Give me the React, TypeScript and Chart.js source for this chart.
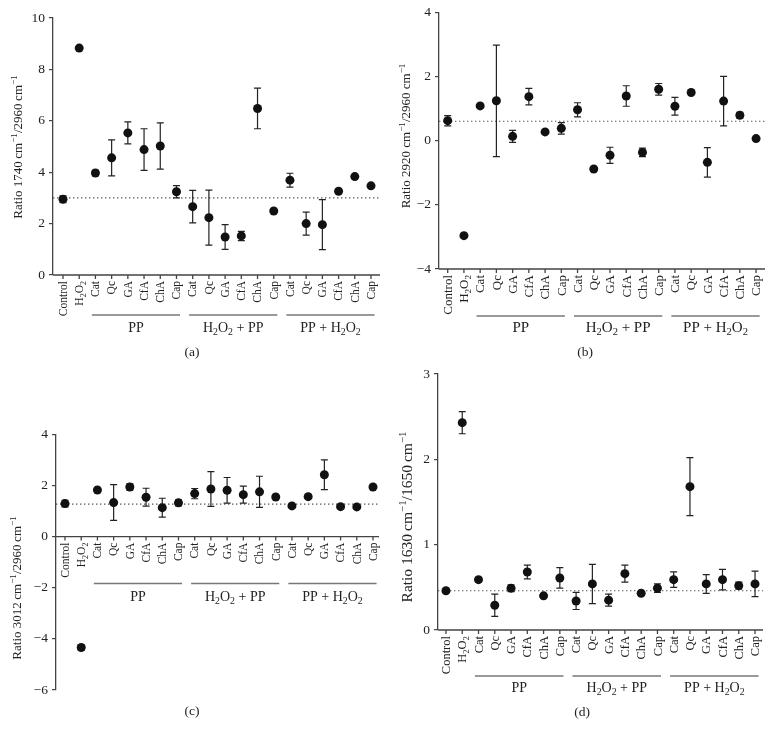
import React, { useEffect, useRef } from "react";
import { Chart, registerables } from "chart.js";
Chart.register(...registerables);

const FONT = '"Liberation Serif", "Times New Roman", serif';
const W = 773;
const H = 737;
const AXW = 40;

// ---------- data ----------
const categories = [
  "Control", "H_2O_2",
  "Cat", "Qc", "GA", "CfA", "ChA", "Cap",
  "Cat", "Qc", "GA", "CfA", "ChA", "Cap",
  "Cat", "Qc", "GA", "CfA", "ChA", "Cap",
];
const groupLabels = ["PP", "H_2O_2 + PP", "PP + H_2O_2"];
const groupFirst = [2, 8, 14];
const groupLast = [7, 13, 19];

const meanA = [2.95, 8.83, 3.97, 4.56, 5.53, 4.88, 5.02, 3.24, 2.66, 2.23, 1.48, 1.52, 6.48, 2.49, 3.69, 2.0, 1.96, 3.26, 3.83, 3.47];
const errA = [0.13, 0, 0.1, 0.7, 0.43, 0.81, 0.9, 0.24, 0.63, 1.07, 0.48, 0.18, 0.79, 0, 0.27, 0.45, 0.97, 0, 0, 0];
const refA = 3.0;
const ticksA = [0, 10, 2];
const titleA = "Ratio 1740\u2009cm^{\u22121}/2960\u2009cm^{\u22121}";

const meanB = [0.63, -2.96, 1.09, 1.25, 0.14, 1.38, 0.28, 0.39, 0.97, -0.88, -0.45, 1.4, -0.36, 1.61, 1.08, 1.51, -0.67, 1.24, 0.8, 0.07];
const errB = [0.16, 0, 0, 1.74, 0.19, 0.26, 0, 0.18, 0.22, 0, 0.25, 0.32, 0.13, 0.18, 0.28, 0, 0.46, 0.77, 0.09, 0];
const refB = 0.61;
const ticksB = [-4, 4, 2];
const titleB = "Ratio 2920 cm^{\u22121}/2960 cm^{\u22121}";

const meanC = [1.29, -4.34, 1.82, 1.33, 1.94, 1.54, 1.13, 1.32, 1.68, 1.86, 1.81, 1.64, 1.75, 1.55, 1.2, 1.56, 2.42, 1.17, 1.16, 1.94];
const errC = [0.13, 0.1, 0, 0.7, 0.12, 0.35, 0.37, 0.12, 0.2, 0.68, 0.5, 0.33, 0.61, 0, 0, 0, 0.58, 0, 0, 0];
const refC = 1.27;
const ticksC = [-6, 4, 2];
const titleC = "Ratio 3012\u2009cm^{\u22121}/2960\u2009cm^{\u22121}";

const meanD = [0.46, 2.43, 0.59, 0.29, 0.49, 0.68, 0.4, 0.61, 0.34, 0.54, 0.35, 0.66, 0.43, 0.49, 0.59, 1.68, 0.54, 0.59, 0.52, 0.54];
const errD = [0, 0.13, 0, 0.13, 0.04, 0.08, 0, 0.12, 0.1, 0.23, 0.07, 0.1, 0, 0.05, 0.09, 0.34, 0.11, 0.12, 0.04, 0.15];
const refD = 0.46;
const ticksD = [0, 3, 1];
const titleD = "Ratio 1630\u2009cm^{\u22121}/1650\u2009cm^{\u22121}";

// ---------- layout ----------
type Panel = {
  mean: number[]; err: number[]; ref: number; ticks: number[]; axisAt: number;
  title: string; caption: string;
  area: { l: number; r: number; t: number; b: number };
  xMin: number; xMax: number;
  labelSize: number; lineOffset: number; groupSize: number; groupGap: number;
  titleX: number; titleY: number; titleSize: number; capX: number; capY: number;
};

const panels: Panel[] = [
  { mean: meanA, err: errA, ref: refA, ticks: ticksA, axisAt: 0, title: titleA, caption: "(a)",
    area: { l: 53, r: 380, t: 18, b: 275 }, xMin: -0.617, xMax: 19.555,
    labelSize: 11.5, lineOffset: 40, groupSize: 14, groupGap: 12,
    titleX: 18, titleY: 147, titleSize: 13, capX: 192, capY: 352 },
  { mean: meanB, err: errB, ref: refB, ticks: ticksB, axisAt: -4, title: titleB, caption: "(b)",
    area: { l: 439, r: 765, t: 12.7, b: 269 }, xMin: -0.536, xMax: 19.55,
    labelSize: 13, lineOffset: 47, groupSize: 15, groupGap: 11,
    titleX: 406, titleY: 136, titleSize: 13, capX: 585, capY: 352 },
  { mean: meanC, err: errC, ref: refC, ticks: ticksC, axisAt: 0, title: titleC, caption: "(c)",
    area: { l: 56, r: 379, t: 434.3, b: 690 }, xMin: -0.555, xMax: 19.37,
    labelSize: 11.5, lineOffset: 47, groupSize: 14, groupGap: 13,
    titleX: 17, titleY: 588, titleSize: 13, capX: 192, capY: 711 },
  { mean: meanD, err: errD, ref: refD, ticks: ticksD, axisAt: 0, title: titleD, caption: "(d)",
    area: { l: 438, r: 763, t: 374, b: 630 }, xMin: -0.49, xMax: 19.49,
    labelSize: 12.5, lineOffset: 46, groupSize: 14, groupGap: 11,
    titleX: 407, titleY: 517, titleSize: 15.5, capX: 582, capY: 712 },
];

// ---------- rich text ----------
type Seg = { t: string; k: number };
function parseRich(s: string): Seg[] {
  const out: Seg[] = [];
  let buf = "";
  for (let i = 0; i < s.length; i++) {
    const c = s[i];
    if (c === "_") {
      if (buf) out.push({ t: buf, k: 0 });
      buf = "";
      out.push({ t: s[i + 1], k: 1 });
      i++;
    } else if (c === "^" && s[i + 1] === "{") {
      if (buf) out.push({ t: buf, k: 0 });
      buf = "";
      const j = s.indexOf("}", i);
      out.push({ t: s.slice(i + 2, j), k: 2 });
      i = j;
    } else buf += c;
  }
  if (buf) out.push({ t: buf, k: 0 });
  return out;
}

function drawRich(ctx: CanvasRenderingContext2D, s: string, x: number, y: number, size: number, align: string) {
  const segs = parseRich(s);
  const small = size * 0.7;
  const widths = segs.map((g) => {
    ctx.font = `${g.k ? small : size}px ${FONT}`;
    return ctx.measureText(g.t).width;
  });
  const total = widths.reduce((a, b) => a + b, 0);
  let cx = align === "left" ? x : align === "center" ? x - total / 2 : x - total;
  const base = y + size * 0.33;
  ctx.textAlign = "left";
  ctx.textBaseline = "alphabetic";
  segs.forEach((g, i) => {
    ctx.font = `${g.k ? small : size}px ${FONT}`;
    const dy = g.k === 1 ? size * 0.22 : g.k === 2 ? -size * 0.42 : 0;
    ctx.fillText(g.t, cx, base + dy);
    cx += widths[i];
  });
}

function makeDecor(p: Panel) {
  return {
    id: "decor",
    beforeDatasetsDraw(chart: any) {
      const ctx: CanvasRenderingContext2D = chart.ctx;
      const xs = chart.scales.x;
      const ys = chart.scales.y;
      const ca = chart.chartArea;
      ctx.save();
      // dotted reference line
      ctx.strokeStyle = "#555";
      ctx.lineWidth = 1.1;
      ctx.setLineDash([1.4, 2.6]);
      const yr = ys.getPixelForValue(p.ref);
      ctx.beginPath();
      ctx.moveTo(ca.left, yr);
      ctx.lineTo(ca.right, yr);
      ctx.stroke();
      ctx.setLineDash([]);
      // error bars
      ctx.strokeStyle = "#222";
      ctx.lineWidth = 1.2;
      p.mean.forEach((m, i) => {
        const e = p.err[i];
        if (!e) return;
        const x = xs.getPixelForValue(i);
        const y1 = ys.getPixelForValue(m + e);
        const y2 = ys.getPixelForValue(m - e);
        ctx.beginPath();
        ctx.moveTo(x, y1);
        ctx.lineTo(x, y2);
        ctx.moveTo(x - 3.5, y1);
        ctx.lineTo(x + 3.5, y1);
        ctx.moveTo(x - 3.5, y2);
        ctx.lineTo(x + 3.5, y2);
        ctx.stroke();
      });
      ctx.restore();
    },
    afterDraw(chart: any) {
      const ctx: CanvasRenderingContext2D = chart.ctx;
      const xs = chart.scales.x;
      const ys = chart.scales.y;
      const ca = chart.chartArea;
      const ya = ys.getPixelForValue(p.axisAt);
      ctx.save();
      // x axis line + ticks
      ctx.strokeStyle = "#444";
      ctx.lineWidth = 1.3;
      ctx.beginPath();
      ctx.moveTo(ca.left, ya);
      ctx.lineTo(ca.right, ya);
      categories.forEach((_, i) => {
        const x = xs.getPixelForValue(i);
        ctx.moveTo(x, ya);
        ctx.lineTo(x, ya + 4);
      });
      ctx.stroke();
      // category labels
      ctx.fillStyle = "#222";
      categories.forEach((c, i) => {
        const x = xs.getPixelForValue(i);
        ctx.save();
        ctx.translate(x, ya + 6);
        ctx.rotate(-Math.PI / 2);
        drawRich(ctx, c, 0, 0, p.labelSize, "right");
        ctx.restore();
      });
      // group lines + labels
      const sp = xs.getPixelForValue(1) - xs.getPixelForValue(0);
      const ly = ya + p.lineOffset;
      groupLabels.forEach((g, k) => {
        const cx = (xs.getPixelForValue(groupFirst[k]) + xs.getPixelForValue(groupLast[k])) / 2;
        const hw = 2.72 * sp;
        ctx.strokeStyle = "#777";
        ctx.lineWidth = 1.5;
        ctx.beginPath();
        ctx.moveTo(cx - hw, ly);
        ctx.lineTo(cx + hw, ly);
        ctx.stroke();
        ctx.fillStyle = "#222";
        drawRich(ctx, g, cx, ly + p.groupGap, p.groupSize, "center");
      });
      // y title
      ctx.save();
      ctx.translate(p.titleX, p.titleY);
      ctx.rotate(-Math.PI / 2);
      drawRich(ctx, p.title, 0, 0, p.titleSize, "center");
      ctx.restore();
      // caption
      drawRich(ctx, p.caption, p.capX, p.capY, 13.5, "center");
      ctx.restore();
    },
  };
}

function PanelChart({ p }: { p: Panel }) {
  const ref = useRef<HTMLCanvasElement>(null);
  useEffect(() => {
    const canvas = ref.current!;
    const chart = new Chart(canvas, {
      type: "scatter",
      data: {
        datasets: [
          {
            data: p.mean.map((v, i) => ({ x: i, y: v })),
            pointRadius: 4.5,
            pointHoverRadius: 4.5,
            backgroundColor: "#111",
            borderColor: "#111",
            borderWidth: 0,
          },
        ],
      },
      options: {
        animation: false,
        responsive: false,
        devicePixelRatio: 1,
        events: [],
        layout: {
          padding: { left: p.area.l - AXW, right: W - p.area.r, top: p.area.t, bottom: H - p.area.b },
        },
        plugins: { legend: { display: false }, tooltip: { enabled: false } },
        scales: {
          x: { type: "linear", display: false, min: p.xMin, max: p.xMax },
          y: {
            type: "linear",
            min: p.ticks[0],
            max: p.ticks[1],
            afterFit: (s: any) => {
              s.width = AXW;
            },
            ticks: {
              stepSize: p.ticks[2],
              font: { family: FONT, size: 13.5 },
              color: "#222",
              padding: 4,
              callback: (v: any) => String(v).replace("-", "\u2212"),
            },
            grid: { drawOnChartArea: false, drawTicks: true, tickLength: 4, color: "#444", lineWidth: 1.2 },
            border: { display: true, color: "#444", width: 1.3 },
          },
        },
      },
      plugins: [makeDecor(p)],
    } as any);
    return () => chart.destroy();
  }, []);
  return <canvas ref={ref} width={W} height={H} style={{ position: "absolute", left: 0, top: 0, display: "block" }} />;
}

export default function App() {
  return (
    <div style={{ position: "absolute", left: 0, top: 0, width: W, height: H, background: "#fff", overflow: "hidden" }}>
      {panels.map((p, i) => (
        <PanelChart key={i} p={p} />
      ))}
    </div>
  );
}
